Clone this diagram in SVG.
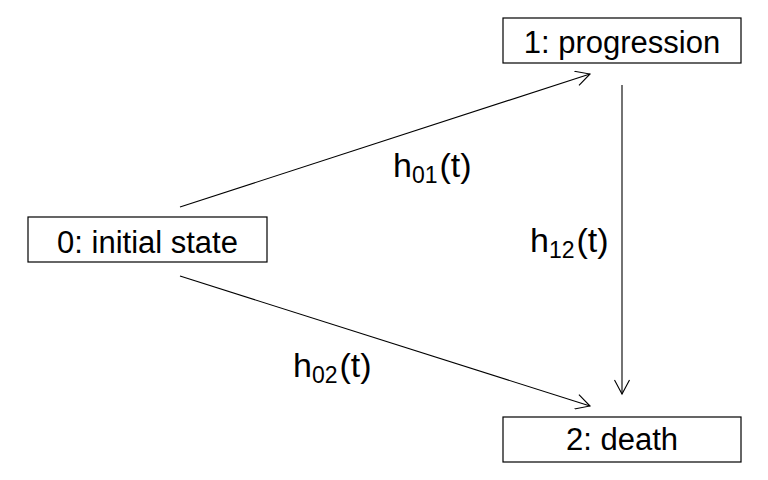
<svg xmlns="http://www.w3.org/2000/svg" width="768" height="480" viewBox="0 0 768 480">
<defs>
<style>
.box{fill:#fff;stroke:#000;stroke-width:1.2}
.lbl{font-family:"Liberation Sans",Arial,sans-serif;font-size:31px;fill:#000}
.rate{font-size:34px}
.sub{font-size:23px}
.edge{stroke:#000;stroke-width:1.1;fill:none;marker-end:url(#arr)}
</style>
<marker id="arr" viewBox="-15 -8 17 16" markerWidth="17" markerHeight="16" refX="0" refY="0" orient="auto" markerUnits="userSpaceOnUse">
<path d="M-14,-7.5 L0,0 L-14,7.5" fill="none" stroke="#000" stroke-width="1.1"/>
</marker>
</defs>
<rect width="768" height="480" fill="#fff"/>
<g id="connectors">
<line class="edge" x1="180" y1="207" x2="590" y2="74"/>
<line class="edge" x1="180" y1="276" x2="590" y2="406"/>
<line class="edge" x1="622" y1="85" x2="622" y2="394"/>
<text class="lbl rate" x="393" y="177">h<tspan class="sub" dy="6">01</tspan><tspan dy="-6" dx="2">(t)</tspan></text>
<text class="lbl rate" x="530" y="252">h<tspan class="sub" dy="6">12</tspan><tspan dy="-6" dx="2">(t)</tspan></text>
<text class="lbl rate" x="293" y="377">h<tspan class="sub" dy="6">02</tspan><tspan dy="-6" dx="2">(t)</tspan></text>
</g>
<g id="node0">
<rect class="box" x="28" y="217" width="239" height="45"/>
<text class="lbl" x="147.5" y="253" text-anchor="middle">0: initial state</text>
</g>
<g id="node1">
<rect class="box" x="503" y="18" width="238" height="45"/>
<text class="lbl" x="622" y="53" text-anchor="middle">1: progression</text>
</g>
<g id="node2">
<rect class="box" x="503" y="417" width="238" height="45"/>
<text class="lbl" x="622" y="450" text-anchor="middle">2: death</text>
</g>
</svg>
